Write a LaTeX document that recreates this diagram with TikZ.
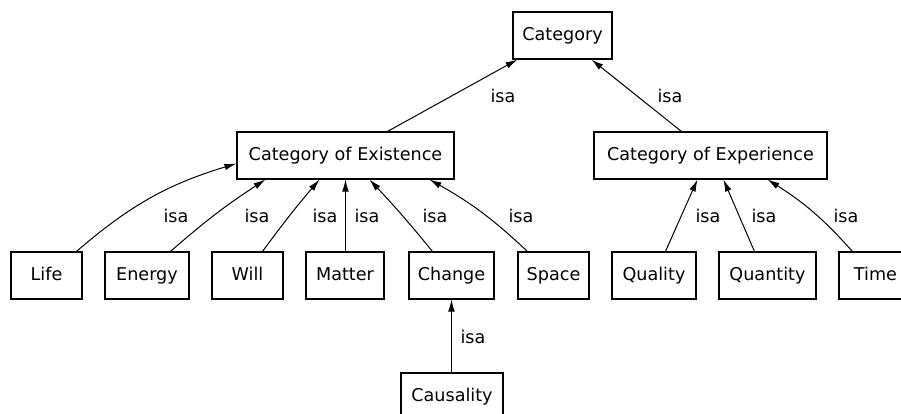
\documentclass[tikz,border=0pt]{standalone}
\usepackage{fontspec}
\setmainfont{DejaVu Sans}
\usetikzlibrary{arrows.meta,calc}

\begin{document}
\begin{tikzpicture}[x=0.75pt, y=0.75pt,
  caja/.style={draw, line width=0.8pt, inner sep=0pt, minimum height=47*0.75pt,
    text height=9.6pt, text depth=2.6pt, font=\fontsize{13.2}{16}\selectfont},
  flecha/.style={-{Latex[length=9pt,width=5pt]}, line width=0.75pt},
  isa/.style={inner sep=0pt, font=\fontsize{13.2}{16}\selectfont}]

\clip (0,0) rectangle (901,414);

\def\FY{138.5}

% === CAJAS ===
\node[caja, minimum width=99*0.75pt]  (cat)   at (562.5,378.5) {Category};
\node[caja, minimum width=217*0.75pt] (exist) at (345.5,258.5) {Category of Existence};
\node[caja, minimum width=233*0.75pt] (exper) at (710.5,258.5) {Category of Experience};

% Fila de abajo
\foreach \n/\x/\w/\t in {life/46.5/71/Life, energy/147/84/Energy, will/247.5/71/Will,
    matter/345/78/Matter, change/451.5/85/Change, space/553.5/71/Space,
    quality/654/84/Quality, quantity/767.5/97/Quantity, time/875.5/73/Time}{
  \node[caja, minimum width=\w*0.75pt] (\n) at (\x,\FY) {\t};
}

\node[caja, minimum width=102*0.75pt] (caus) at (452,17.5) {Causality};

% === FLECHAS ===
\draw[flecha] ($(exist.north west)+(151,0)$) -- ($(cat.south west)+(5,0)$);
\draw[flecha] ($(exper.north west)+(88,0)$)  -- ($(cat.south west)+(79,0)$);

\draw[flecha] ($(life.north west)+(66,0)$)   to[bend left=12] ($(exist.south west)+(0,16)$);
\draw[flecha] ($(energy.north west)+(66,0)$) to[bend left=4]  ($(exist.south west)+(29,0)$);
\draw[flecha] ($(will.north west)+(51,0)$)   to[bend left=2]  ($(exist.south west)+(83,0)$);
\draw[flecha] ($(matter.north west)+(40,0)$) -- ($(exist.south west)+(109,0)$);
\draw[flecha] ($(change.north west)+(24,0)$) to[bend right=2] ($(exist.south west)+(133,0)$);
\draw[flecha] ($(space.north west)+(10,0)$)  to[bend right=7] ($(exist.south west)+(193,0)$);

\draw[flecha] ($(quality.north west)+(54,0)$)  -- ($(exper.south west)+(104,0)$);
\draw[flecha] ($(quantity.north west)+(36,0)$) -- ($(exper.south west)+(130,0)$);
\draw[flecha] ($(time.north west)+(14,0)$)     to[bend right=8] ($(exper.south west)+(174,0)$);

\draw[flecha] ($(caus.north west)+(51,0)$) -- ($(change.south west)+(43,0)$);

% === ETIQUETAS ===
\node[isa] (i1) at (503,318) {isa};
\node[isa] (i2) at (670,318) {isa};
\foreach \n/\x in {i3/176, i4/257, i5/325, i6/367, i7/435, i8/521, i9/708, i10/764, i11/846}{
  \node[isa] (\n) at (\x,198) {isa};
}
\node[isa] (i12) at (473,77) {isa};

\end{tikzpicture}
\end{document}
